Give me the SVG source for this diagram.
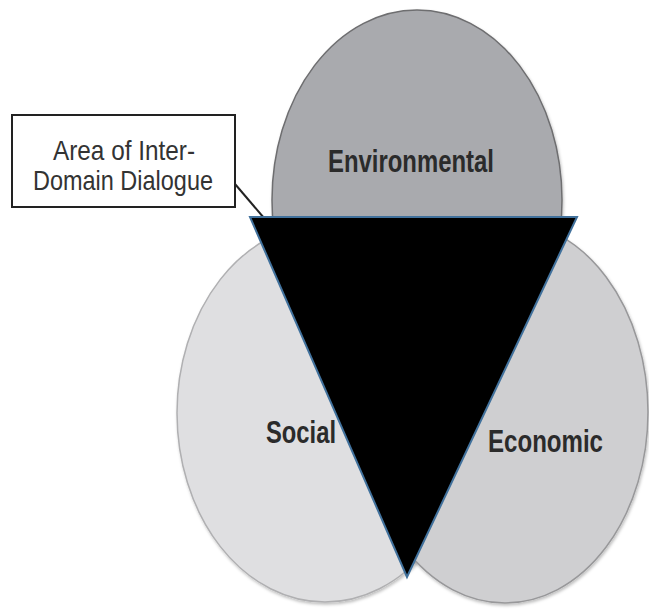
<svg xmlns="http://www.w3.org/2000/svg" width="649" height="610" viewBox="0 0 649 610">
  <style>
    .domain-label { font-family: "Liberation Sans", Arial, sans-serif; font-weight: bold; font-size: 31px; fill: #2b2b2b; }
    .callout-text { font-family: "Liberation Sans", Arial, sans-serif; font-size: 28px; fill: #333333; text-anchor: middle; }
    .circle { stroke-width: 1.5; }
  </style>
  <defs>
    <filter id="soft" x="-10%" y="-10%" width="120%" height="120%">
      <feDropShadow dx="1" dy="2" stdDeviation="1.5" flood-color="#000000" flood-opacity="0.25"/>
    </filter>
  </defs>
  <rect width="649" height="610" fill="#ffffff"/>
  <g id="environmental">
    <ellipse class="circle" cx="417" cy="200" rx="145" ry="190" fill="#a9aaae" stroke="#6e6e70" filter="url(#soft)"/>
    <text class="domain-label" x="328" y="172" textLength="166" lengthAdjust="spacingAndGlyphs">Environmental</text>
  </g>
  <g id="social">
    <ellipse class="circle" cx="325" cy="413" rx="148" ry="189" fill="#dfdfe1" stroke="#b0b0b2" filter="url(#soft)"/>
    <text class="domain-label" x="266" y="443" textLength="70" lengthAdjust="spacingAndGlyphs">Social</text>
  </g>
  <g id="economic">
    <ellipse class="circle" cx="505" cy="412" rx="143" ry="191" fill="#cfcfd1" stroke="#98989a" filter="url(#soft)"/>
    <text class="domain-label" x="488" y="452" textLength="115" lengthAdjust="spacingAndGlyphs">Economic</text>
  </g>
  <g id="connectors">
    <line x1="235" y1="184" x2="264" y2="218" stroke="#222222" stroke-width="2"/>
  </g>
  <g id="dialogue-area">
    <polygon points="250,217 577,217 407,577" fill="#000000" stroke="#41719c" stroke-width="2" stroke-linejoin="miter"/>
  </g>
  <g id="callout">
    <rect x="12" y="115" width="223" height="92" fill="#ffffff" stroke="#222222" stroke-width="2"/>
    <text class="callout-text" x="124" y="160" textLength="142" lengthAdjust="spacingAndGlyphs">Area of Inter-</text>
    <text class="callout-text" x="123" y="190" textLength="180" lengthAdjust="spacingAndGlyphs">Domain Dialogue</text>
  </g>
</svg>
